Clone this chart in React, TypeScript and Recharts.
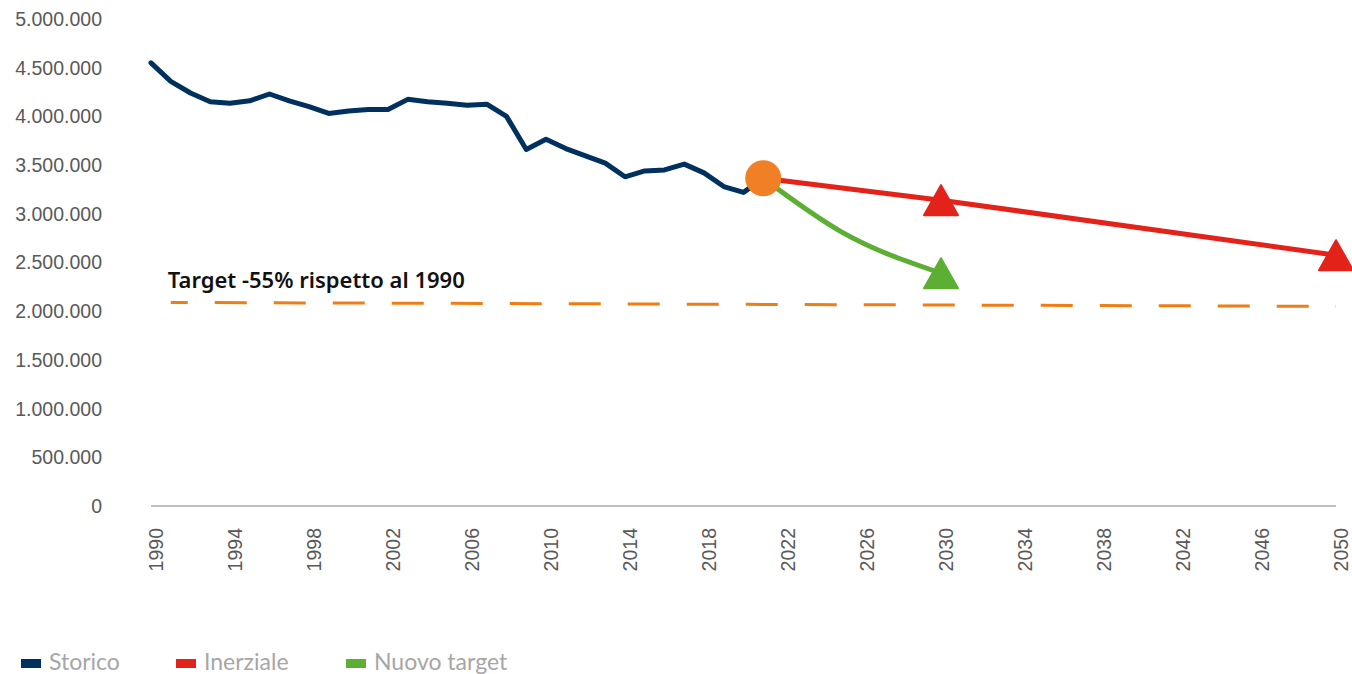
import React from 'react';
import { LineChart, Line, XAxis, YAxis } from 'recharts';

const storicoYears = [
  1990, 1991, 1992, 1993, 1994, 1995, 1996, 1997, 1998, 1999, 2000, 2001, 2002, 2003, 2004, 2005,
  2006, 2007, 2008, 2009, 2010, 2011, 2012, 2013, 2014, 2015, 2016, 2017, 2018, 2019, 2020, 2021,
];
const storicoValues = [
  4550000, 4360000, 4240000, 4150000, 4135000, 4160000, 4230000, 4160000, 4100000, 4030000,
  4055000, 4070000, 4070000, 4175000, 4150000, 4135000, 4115000, 4125000, 4000000, 3660000,
  3765000, 3670000, 3595000, 3520000, 3380000, 3440000, 3450000, 3510000, 3420000, 3280000,
  3220000, 3365000,
];

const inerzialeYears = [2021, 2030, 2050];
const inerzialeValues = [3365000, 3140000, 2575000];

const nuovoYears = [2021, 2025, 2030];
const nuovoValues = [3365000, 2810000, 2390000];

const targetYears = [1991, 2050];
const targetValues = [2090000, 2050000];
const targetLabel = 'Target -55% rispetto al 1990';

const xTicks = [1990, 1994, 1998, 2002, 2006, 2010, 2014, 2018, 2022, 2026, 2030, 2034, 2038, 2042, 2046, 2050];
const yTicks = [0, 500000, 1000000, 1500000, 2000000, 2500000, 3000000, 3500000, 4000000, 4500000, 5000000];

const toRows = (years: number[], values: number[]) => years.map((year, i) => ({ year, value: values[i] }));

const storico = toRows(storicoYears, storicoValues);
const inerziale = toRows(inerzialeYears, inerzialeValues);
const nuovo = toRows(nuovoYears, nuovoValues);
const target = toRows(targetYears, targetValues);

const legendItems = [
  { name: 'Storico', color: '#00305E', left: 21 },
  { name: 'Inerziale', color: '#E3231A', left: 176 },
  { name: 'Nuovo target', color: '#5DAF34', left: 346 },
];

const fmt = (v: number) => String(v).replace(/\B(?=(\d{3})+(?!\d))/g, '.');

const axisFont = { fontFamily: '"Liberation Sans", Arial, sans-serif', fontSize: 19.5, fill: '#595959' };

const XTick = (props: any) => {
  const { x, y, payload } = props;
  return (
    <g transform={`translate(${x},${y})`}>
      <text transform="rotate(-90)" textAnchor="end" dy={12} {...axisFont}>
        {payload.value}
      </text>
    </g>
  );
};

const triangle = (cx: number, cy: number, color: string, key: string) => (
  <polygon
    key={key}
    points={`${cx},${cy - 15} ${cx + 17},${cy + 15} ${cx - 17},${cy + 15}`}
    fill={color}
    stroke={color}
    strokeWidth={2}
    strokeLinejoin="round"
  />
);

// first point: orange circle (only drawn once), last point: triangle
const makeDot = (color: string, withCircle: boolean, count: number) => (props: any) => {
  const { cx, cy, index } = props;
  if (index === 0 && withCircle) return <circle key={`c-${index}`} cx={cx} cy={cy} r={18} fill="#F07F26" />;
  if (index === count - 1 || (withCircle && index > 0)) return triangle(cx, cy, color, `t-${index}`);
  return <g key={`e-${index}`} />;
};

const TargetLabel = (props: any) => {
  const { x, y, index } = props;
  if (index !== 0) return null;
  return (
    <text
      x={x - 3}
      y={y - 14}
      fontFamily='"Noto Sans", sans-serif'
      fontWeight={600}
      fontSize={22}
      fill="#111111"
    >
      {targetLabel}
    </text>
  );
};

export default function App() {
  return (
    <div style={{ position: 'absolute', left: 0, top: 0, width: 1352, height: 674, background: '#fff', overflow: 'hidden' }}>
      <LineChart width={1352} height={674} margin={{ top: 19, right: 16, left: 0, bottom: 0 }}>
        <XAxis
          type="number"
          dataKey="year"
          domain={[1990, 2050]}
          ticks={xTicks}
          interval={0}
          height={168}
          tickSize={0}
          tickMargin={22}
          tick={<XTick />}
          axisLine={{ stroke: '#BFBFBF', strokeWidth: 2 }}
          tickLine={false}
        />
        <YAxis
          type="number"
          domain={[0, 5000000]}
          ticks={yTicks}
          interval={0}
          width={151}
          tickSize={0}
          tickMargin={49}
          tickFormatter={fmt}
          tick={axisFont}
          axisLine={false}
          tickLine={false}
        />
        <Line
          data={target}
          dataKey="value"
          stroke="#EF7D14"
          strokeWidth={3}
          strokeDasharray="32 27"
          strokeDashoffset={15}
          dot={false}
          label={<TargetLabel />}
          isAnimationActive={false}
        />
        <Line
          data={storico}
          dataKey="value"
          stroke="#00305E"
          strokeWidth={5}
          strokeLinejoin="round"
          strokeLinecap="round"
          dot={false}
          isAnimationActive={false}
        />
        <Line
          data={nuovo}
          dataKey="value"
          type="monotone"
          stroke="#5DAF34"
          strokeWidth={5}
          dot={makeDot('#5DAF34', false, nuovo.length)}
          activeDot={false}
          isAnimationActive={false}
        />
        <Line
          data={inerziale}
          dataKey="value"
          stroke="#E3231A"
          strokeWidth={5}
          dot={makeDot('#E3231A', true, inerziale.length)}
          activeDot={false}
          isAnimationActive={false}
        />
      </LineChart>
      {legendItems.map((item) => (
        <div
          key={item.name}
          style={{ position: 'absolute', left: item.left, top: 647, display: 'flex', alignItems: 'center', height: 28 }}
        >
          <span style={{ display: 'inline-block', width: 20, height: 9, background: item.color, marginRight: 8, marginTop: 5 }} />
          <span style={{ fontFamily: 'Lato, sans-serif', fontSize: 23, color: '#A6A6A6', lineHeight: '28px' }}>
            {item.name}
          </span>
        </div>
      ))}
    </div>
  );
}
